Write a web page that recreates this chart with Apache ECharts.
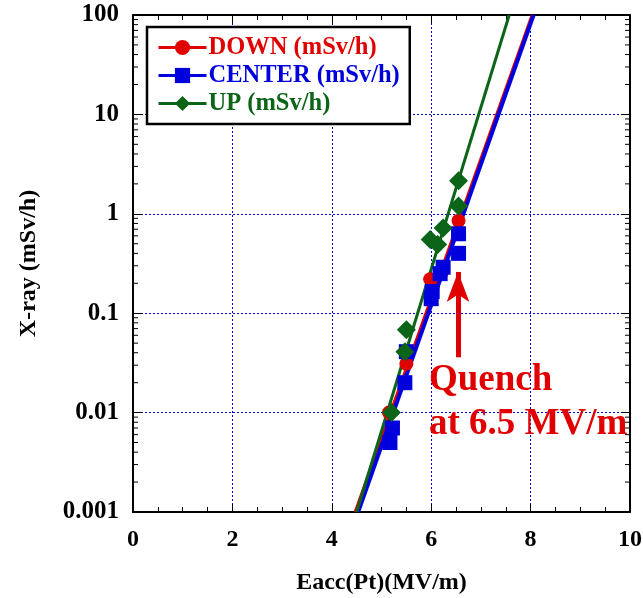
<!DOCTYPE html>
<html><head><meta charset="utf-8">
<script src="https://cdn.jsdelivr.net/npm/echarts@6/dist/echarts.min.js"></script>
<style>html,body{margin:0;padding:0;background:#fff}#c{width:643px;height:598px}</style>
</head><body><div id="c"></div>
<script>
// ---- data ----
const seriesNames = ['DOWN (mSv/h)', 'CENTER (mSv/h)', 'UP (mSv/h)'];
const downPts   = [[5.15,0.01],[5.5,0.031],[5.98,0.22],[6.2,0.25],[6.55,0.85]];
const centerPts = [[5.17,0.005],[5.22,0.007],[5.47,0.02],[5.5,0.041],[6.0,0.14],[6.02,0.165],[6.18,0.25],[6.24,0.29],[6.55,0.4],[6.55,0.63]];
const upPts     = [[5.2,0.01],[5.47,0.041],[5.5,0.068],[5.98,0.55],[6.13,0.49],[6.24,0.72],[6.55,1.2],[6.55,2.15]];
const downFit   = [[4.47,0.001],[8.03,100]];
const centerFit = [[4.53,0.001],[8.06,100]];
const upFit     = [[4.5,0.001],[7.57,100]];
const xTicks = [0,2,4,6,8,10];
const yTicks = [0.001,0.01,0.1,1,10,100];
const yMinorTicks = [0.002,0.003,0.004,0.005,0.006,0.007,0.008,0.009,
  0.02,0.03,0.04,0.05,0.06,0.07,0.08,0.09,
  0.2,0.3,0.4,0.5,0.6,0.7,0.8,0.9,
  2,3,4,5,6,7,8,9,
  20,30,40,50,60,70,80,90];
const quenchArrow = [[6.54,0.036],[6.54,0.26]];
const quenchText = ['Quench', 'at 6.5 MV/m'];
const colors = ['#e00000', '#0000dd', '#0b6418'];

const FONT = 'Liberation Serif';
const chart = echarts.init(document.getElementById('c'));

const xCommon = {
  type: 'value', min: xTicks[0], max: xTicks[xTicks.length-1], interval: 2,
  axisLine: {show: true, onZero: false, lineStyle: {color: '#000', width: 2}},
  axisTick: {show: true, inside: true, length: 8, lineStyle: {color: '#000', width: 1}},
  minorTick: {show: true, splitNumber: 4, length: 5, lineStyle: {color: '#000', width: 1}},
};
const yCommon = {
  type: 'log', logBase: 10, min: yTicks[0], max: yTicks[yTicks.length-1],
  axisLine: {show: true, onZero: false, lineStyle: {color: '#000', width: 2}},
  axisTick: {show: true, inside: true, length: 9, lineStyle: {color: '#000', width: 1}},
};

function fitSeries(name, data, color, symbol, width, z) {
  return {
    name, type: 'line', data, symbol, showSymbol: false, symbolSize: 16,
    lineStyle: {color, width}, itemStyle: {color}, z, silent: true, animation: false
  };
}
function ptSeries(name, data, color, symbol, size, z) {
  return {
    name, type: 'scatter', data, symbol, symbolSize: size,
    itemStyle: {color, opacity: 1}, z, animation: false
  };
}

const option = {
  animation: false,
  grid: {left: 133, right: 13, top: 15, bottom: 86, containLabel: false, outerBoundsMode: 'none'},
  legend: {
    left: 147, top: 27, orient: 'vertical',
    data: seriesNames.map((n, i) => ({name: n, textStyle: {color: colors[i]}})),
    backgroundColor: '#fff', borderColor: '#000', borderWidth: 2.5,
    padding: [8, 10, 8, 10], itemGap: 3, itemWidth: 48, itemHeight: 19,
    lineStyle: {width: 3},
    textStyle: {fontFamily: FONT, fontWeight: 'bold', fontSize: 24.5, padding: [0,0,0,-3]},
    selectedMode: false
  },
  xAxis: [
    Object.assign({}, xCommon, {
      position: 'bottom',
      name: 'Eacc(Pt)(MV/m)', nameLocation: 'middle', nameGap: 59,
      nameTextStyle: {fontFamily: FONT, fontWeight: 'bold', fontSize: 24, color: '#000'},
      axisLabel: {fontFamily: FONT, fontWeight: 'bold', fontSize: 24, color: '#000', margin: 16},
      splitLine: {show: true, lineStyle: {color: '#0000cc', type: [2, 2], width: 1}}
    }),
    Object.assign({}, xCommon, {position: 'top', axisLabel: {show: false}, splitLine: {show: false}})
  ],
  yAxis: [
    Object.assign({}, yCommon, {
      position: 'left',
      name: 'X-ray (mSv/h)', nameLocation: 'middle', nameGap: 92,
      nameTextStyle: {fontFamily: FONT, fontWeight: 'bold', fontSize: 24, color: '#000'},
      axisLabel: {fontFamily: FONT, fontWeight: 'bold', fontSize: 25, color: '#000', margin: 14,
        formatter: v => String(v)},
      splitLine: {show: true, lineStyle: {color: '#0000cc', type: [2, 2], width: 1}}
    }),
    Object.assign({}, yCommon, {position: 'right', axisLabel: {show: false}, splitLine: {show: false}})
  ],
  series: [
    fitSeries(seriesNames[0], downFit, colors[0], 'circle', 3, 2),
    fitSeries(seriesNames[1], centerFit, colors[1], 'rect', 4, 3),
    fitSeries(seriesNames[2], upFit, colors[2], 'diamond', 3, 4),
    ptSeries(seriesNames[0], downPts, colors[0], 'circle', 14, 5),
    ptSeries(seriesNames[1], centerPts, colors[1], 'rect', 15, 6),
    Object.assign(ptSeries(seriesNames[2], upPts, colors[2], 'diamond', 19, 7), {
      markLine: {
        silent: true, symbol: ['none', 'arrow'], symbolSize: [17, 30],
        lineStyle: {color: colors[0], width: 5, type: 'solid'},
        label: {show: false},
        data: [[{coord: quenchArrow[0]}, {coord: quenchArrow[1]}]]
      }
    }),
    {
      type: 'custom', silent: true, z: 1, animation: false,
      data: yMinorTicks.map(v => [0, v]),
      renderItem: function (params, api) {
        const y = api.coord([0, api.value(1)])[1];
        const cs = params.coordSys;
        return {type: 'group', children: [
          {type: 'line', shape: {x1: cs.x, y1: y, x2: cs.x + 5, y2: y}, style: {stroke: '#000', lineWidth: 1}},
          {type: 'line', shape: {x1: cs.x + cs.width - 5, y1: y, x2: cs.x + cs.width, y2: y}, style: {stroke: '#000', lineWidth: 1}}
        ]};
      }
    }
  ],
  graphic: [
    {type: 'text', left: 429, top: 362, z: 100,
      style: {text: quenchText[0], fill: colors[0], font: 'bold 37px "Liberation Serif"'}},
    {type: 'text', left: 429, top: 406, z: 100,
      style: {text: quenchText[1], fill: colors[0], font: 'bold 37px "Liberation Serif"'}}
  ]
};
chart.setOption(option);
</script>
</body></html>
